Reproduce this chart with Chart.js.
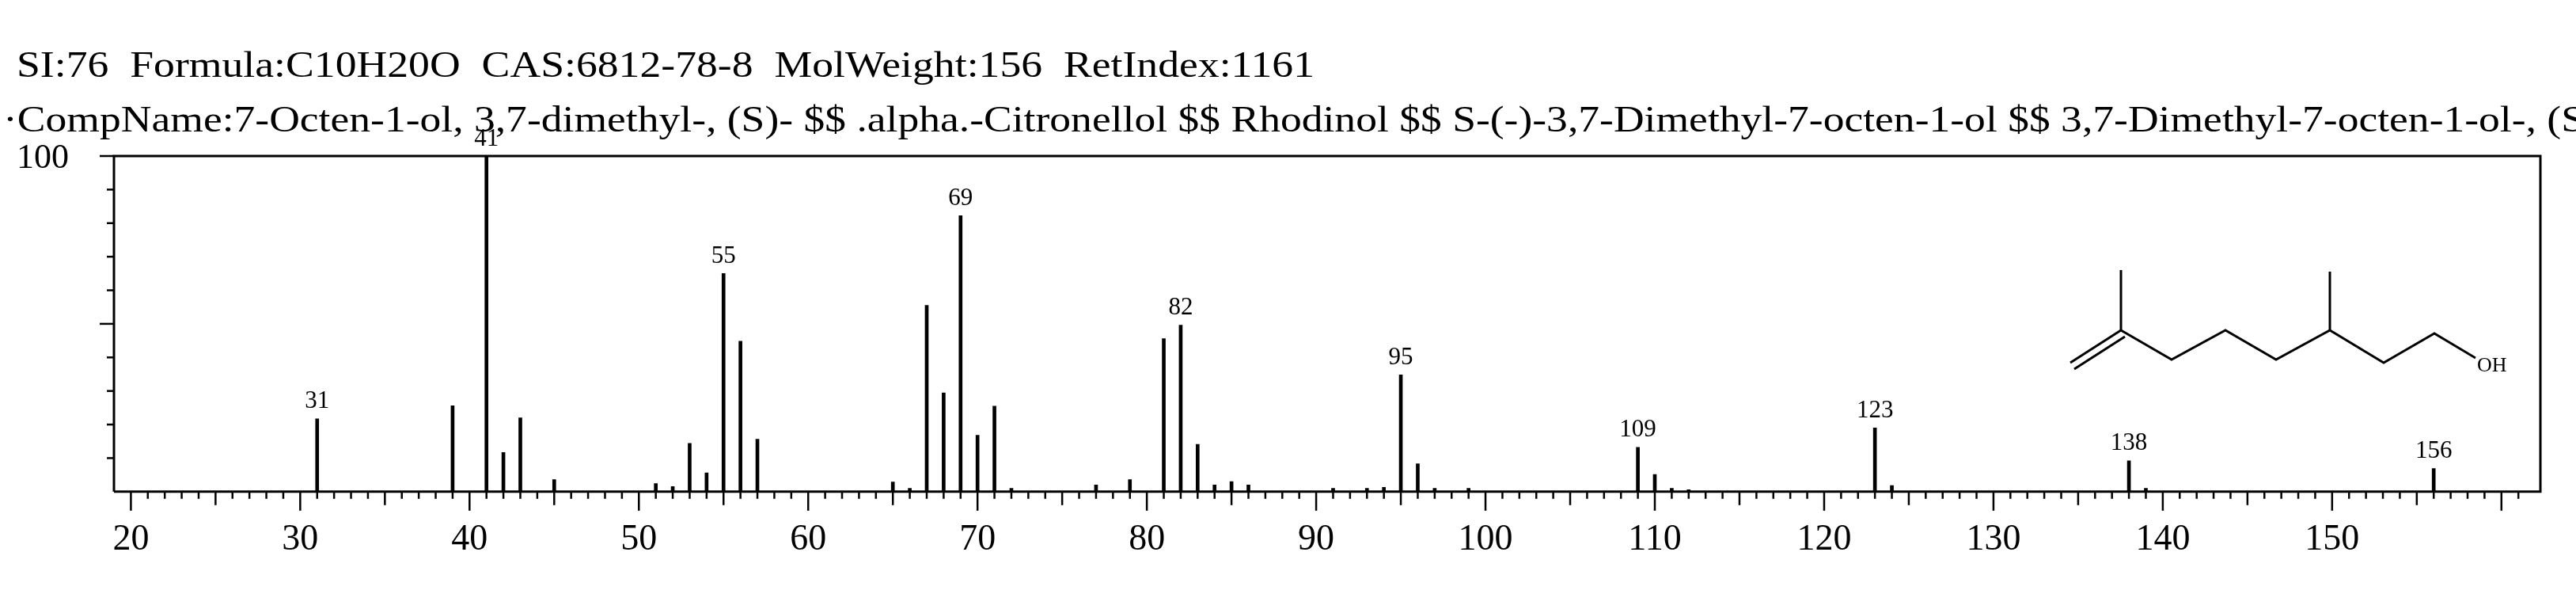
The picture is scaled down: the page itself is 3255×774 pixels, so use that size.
<!DOCTYPE html>
<html><head><meta charset="utf-8">
<script src="https://cdn.jsdelivr.net/npm/chart.js@4"></script>
<style>
html,body{margin:0;padding:0;background:#fff;width:3255px;height:774px;overflow:hidden}
#wrap{position:absolute;left:0;top:0;width:3255px;height:774px}
.t{position:absolute;font-family:"Liberation Serif","DejaVu Serif",serif;font-size:46px;color:#000;white-space:pre;transform-origin:0 0;z-index:2}
</style></head><body>
<div class="t" id="l1" data-w="1640" style="left:21px;top:55px">SI:76  Formula:C10H20O  CAS:6812-78-8  MolWeight:156  RetIndex:1161</div>
<div class="t" id="l2" data-w="3262" style="left:4px;top:124px">·CompName:7-Octen-1-ol, 3,7-dimethyl-, (S)- $$ .alpha.-Citronellol $$ Rhodinol $$ S-(-)-3,7-Dimethyl-7-octen-1-ol $$ 3,7-Dimethyl-7-octen-1-ol-, (S</div>
<div class="t" style="left:21px;top:172px;font-size:44px">100</div>
<div id="wrap"><canvas id="c" width="3255" height="774"></canvas></div>
<script>
const mz = [31,39,41,42,43,45,51,52,53,54,55,56,57,65,66,67,68,69,70,71,72,77,79,81,82,83,84,85,86,91,93,94,95,96,97,99,109,110,111,112,123,124,138,139,156];
const intensity = [21.7,25.6,100,11.7,22,3.6,2.4,1.5,14.4,5.6,65,44.8,15.6,2.9,1,55.5,29.4,82.2,16.8,25.5,1,2,3.6,45.6,49.6,14.1,2,3,2,1,1,1.3,34.8,8.3,1,1,13.2,5.1,1,0.6,19,1.8,9.2,1,6.9];
const labeledPeaks = [31,41,55,69,82,95,109,123,138,156];
const xTickLabels = [20,30,40,50,60,70,80,90,100,110,120,130,140,150];

['l1','l2'].forEach(id=>{
  const el=document.getElementById(id);
  const w=el.getBoundingClientRect().width;
  el.style.transform='scaleX('+(+el.dataset.w/w)+')';
});

const F = '"Liberation Serif","DejaVu Serif",serif';
const deco = {
  id:'deco',
  afterDatasetsDraw(chart){
    const {ctx, chartArea:a, scales:{x,y}} = chart;
    ctx.save();
    ctx.strokeStyle='#000'; ctx.fillStyle='#000';
    ctx.lineWidth=3;
    ctx.beginPath();
    ctx.moveTo(a.left,a.bottom);ctx.lineTo(a.left,a.top);ctx.lineTo(a.right,a.top);ctx.lineTo(a.right,a.bottom);ctx.lineTo(a.left,a.bottom);
    ctx.stroke();
    ctx.lineWidth=2.5;
    for(let v=10; v<=100; v+=10){
      const py=y.getPixelForValue(v);
      const len = v===50||v===100 ? 18 : 9;
      ctx.beginPath();ctx.moveTo(a.left-len,py);ctx.lineTo(a.left,py);ctx.stroke();
    }
    for(let v=20; v<=161; v++){
      const px=x.getPixelForValue(v);
      const len = v%10===0 ? 24 : (v%5===0 ? 17 : 9);
      ctx.beginPath();ctx.moveTo(px,a.bottom);ctx.lineTo(px,a.bottom+len);ctx.stroke();
    }
    ctx.font='31px '+F; ctx.textAlign='center'; ctx.textBaseline='bottom';
    labeledPeaks.forEach(m=>{
      const i=mz.indexOf(m);
      ctx.fillText(String(m), x.getPixelForValue(m), y.getPixelForValue(intensity[i])-6);
    });
    ctx.lineWidth=3;
    const P=[[2616,458],[2680,417],[2744,454],[2812,417],[2876,454],[2944,417],[3012,458],[3076,421],[3128,452]];
    ctx.beginPath();ctx.moveTo(P[0][0],P[0][1]);
    for(let i=1;i<P.length;i++) ctx.lineTo(P[i][0],P[i][1]);
    ctx.stroke();
    ctx.beginPath();ctx.moveTo(P[0][0]+5,P[0][1]+8);ctx.lineTo(P[1][0]+5,P[1][1]+8);ctx.stroke();
    ctx.beginPath();ctx.moveTo(2680,417);ctx.lineTo(2680,341);ctx.moveTo(2944,417);ctx.lineTo(2944,343);ctx.stroke();
    ctx.font='26px '+F; ctx.textAlign='left'; ctx.textBaseline='middle';
    ctx.fillText('OH',3130,462);
    ctx.restore();
  }
};

new Chart(document.getElementById('c'),{
  type:'bar',
  data:{datasets:[{data:mz.map((m,i)=>({x:m,y:intensity[i]})),backgroundColor:'#000',barThickness:4}]},
  options:{
    responsive:false,animation:false,
    layout:{padding:{left:144,right:45,top:197,bottom:38}},
    plugins:{legend:{display:false},tooltip:{enabled:false}},
    scales:{
      x:{type:'linear',min:19,max:162.3,offset:false,
        grid:{display:false},border:{display:false},
        afterBuildTicks(s){s.ticks=xTickLabels.map(v=>({value:v}));},
        ticks:{color:'#000',font:{family:F,size:46},padding:26,maxRotation:0,autoSkip:false}},
      y:{display:false,min:0,max:100}
    }
  },
  plugins:[deco]
});
</script></body></html>
